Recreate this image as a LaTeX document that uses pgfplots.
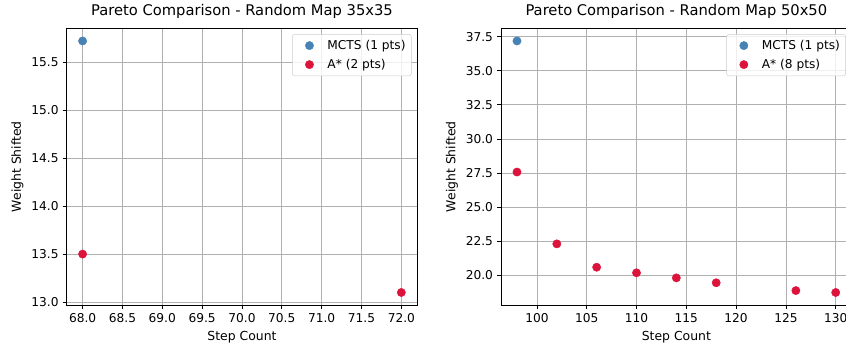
\documentclass[border=0pt]{standalone}
\usepackage{pgfplots}
\pgfplotsset{compat=1.18}
\usepackage{fontspec}
\setmainfont{DejaVu Sans}
\definecolor{mcts}{RGB}{70,130,180}
\definecolor{astar}{RGB}{220,20,60}
\definecolor{gridc}{HTML}{B0B0B0}
\definecolor{legc}{HTML}{CCCCCC}
\pgfplotsset{
  myax/.style={
    scale only axis, width=305pt, height=240.7pt, anchor=south west,
    axis line style={line width=0.7pt},
    grid=major, grid style={gridc, line width=0.7pt},
    tick align=outside, xtick pos=bottom, ytick pos=left, major tick length=3.5pt,
    tick style={black, line width=0.7pt},
    tick label style={font=\fontsize{10.6}{12}\selectfont},
    xlabel style={font=\fontsize{10.8}{13}\selectfont, yshift=-1pt},
    ylabel style={font=\fontsize{10.8}{13}\selectfont},
    title style={font=\fontsize{12.8}{15}\selectfont, yshift=-1pt},
    scaled ticks=false,
    /pgf/number format/assume math mode=true,
    legend cell align=left,
    legend image code/.code={\path[draw=none,fill=none] (0,0) -- (0.9cm,0); \draw[##1, only marks, fill opacity=1, draw opacity=1] plot coordinates {(0.42cm,0cm)};},
    legend style={at={(1,1)}, anchor=north east, xshift=-5pt, yshift=-5pt,
      draw=legc, rounded corners=2pt, fill=white, fill opacity=0.8, text opacity=1,
      font=\fontsize{10.6}{12}\selectfont, row sep=3pt, inner sep=3pt},
    mcts/.style={only marks, mark=*, mark size=3.6pt, color=mcts, mark options={draw=mcts, fill=mcts}},
    astar/.style={only marks, mark=*, mark size=3.6pt, color=astar, mark options={draw=astar, fill=astar}},
  }
}
\begin{document}
\begin{tikzpicture}
\useasboundingbox (0,0) rectangle (736pt,301.9pt);
\begin{axis}[myax, at={(58pt,36.5pt)},
  title={Pareto Comparison - Random Map 35x35},
  xlabel={Step Count}, ylabel={Weight Shifted},
  xmin=67.8, xmax=72.2, ymin=12.969, ymax=15.851,
  xtick={68,68.5,...,72}, ytick={13,13.5,...,15.5},
  xticklabel style={/pgf/number format/fixed, /pgf/number format/fixed zerofill, /pgf/number format/precision=1},
  yticklabel style={/pgf/number format/fixed, /pgf/number format/fixed zerofill, /pgf/number format/precision=1},
]
\addplot[mcts] coordinates {(68,15.72)};
\addlegendentry{MCTS (1 pts)}
\addplot[astar] coordinates {(68,13.5) (72,13.1)};
\addlegendentry{A* (2 pts)}
\end{axis}
\begin{axis}[myax, at={(435.9pt,36.5pt)},
  title={Pareto Comparison - Random Map 50x50},
  xlabel={Step Count}, ylabel={Weight Shifted},
  xmin=96.4, xmax=131.6, ymin=17.839, ymax=38.1,
  xtick={100,105,...,130}, ytick={20,22.5,...,37.5},
  yticklabel style={/pgf/number format/fixed, /pgf/number format/fixed zerofill, /pgf/number format/precision=1},
]
\addplot[mcts] coordinates {(98,37.18)};
\addlegendentry{MCTS (1 pts)}
\addplot[astar] coordinates {(98,27.58) (102,22.32) (106,20.61) (110,20.2) (114,19.83) (118,19.47) (126,18.9) (130,18.76)};
\addlegendentry{A* (8 pts)}
\end{axis}
\end{tikzpicture}
\end{document}
